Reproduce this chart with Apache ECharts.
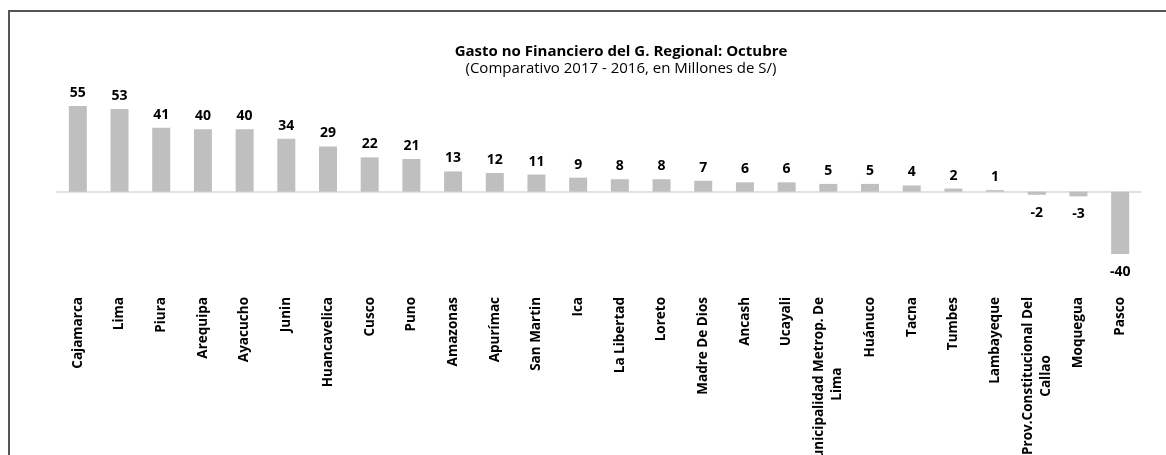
<!DOCTYPE html>
<html>
<head>
<meta charset="utf-8">
<script src="https://cdn.jsdelivr.net/npm/echarts@6/dist/echarts.min.js"></script>
<style>
  html, body { margin: 0; padding: 0; background: #fff; }
  #main { width: 1166px; height: 455px; }
</style>
</head>
<body>
<div id="main"></div>
<script>
// regiones y variación (millones de S/)
const regiones = ['Cajamarca', 'Lima', 'Piura', 'Arequipa', 'Ayacucho', 'Junin', 'Huancavelica', 'Cusco', 'Puno',
  'Amazonas', 'Apurímac', 'San Martin', 'Ica', 'La Libertad', 'Loreto', 'Madre De Dios', 'Ancash', 'Ucayali',
  'Municipalidad Metrop. De\nLima', 'Huánuco', 'Tacna', 'Tumbes', 'Lambayeque', 'Prov.Constitucional Del\nCallao',
  'Moquegua', 'Pasco'];
const variacion = [55, 53, 41, 40, 40, 34, 29, 22, 21, 13, 12, 11, 9, 8, 8, 7, 6, 6, 5, 5, 4, 2, 1, -2, -3, -40];

const titulo = 'Gasto no Financiero del G. Regional: Octubre';
const subtitulo = '(Comparativo 2017 - 2016, en Millones de S/)';

const font = '"Open Sans", sans-serif';

const myChart = echarts.init(document.getElementById('main'));

const option = {
  backgroundColor: '#fff',
  animation: false,
  title: {
    text: titulo,
    subtext: subtitulo,
    left: 616,
    top: 38,
    textAlign: 'center',
    itemGap: 0,
    textStyle: { fontFamily: font, fontSize: 15, fontWeight: 'bold', color: '#000', lineHeight: 17 },
    subtextStyle: { fontFamily: font, fontSize: 15, color: '#000', lineHeight: 17 }
  },
  graphic: [{
    type: 'rect',
    shape: { x: 9, y: 11, width: 1400, height: 700 },
    style: { fill: 'none', stroke: '#555', lineWidth: 2 },
    silent: true
  }],
  grid: { left: 57, right: 25, top: 106, bottom: 201, outerBoundsMode: 'none', containLabel: false },
  xAxis: {
    type: 'category',
    data: regiones,
    axisLine: { lineStyle: { color: '#D9D9D9', width: 1.5 } },
    axisTick: { show: false },
    axisLabel: {
      interval: 0,
      rotate: 90,
      margin: 43,
      formatter: v => v.split('\n').map(s => '{c|' + s + '}').join('\n'),
      rich: {
        c: { align: 'center', fontFamily: font, fontSize: 13.5, fontWeight: 'bold', color: '#000', lineHeight: 18 }
      }
    }
  },
  yAxis: {
    type: 'value',
    min: -40,
    max: 55,
    show: false,
    splitLine: { show: false }
  },
  series: [{
    type: 'bar',
    barWidth: 18,
    itemStyle: { color: '#BFBFBF' },
    label: {
      show: true,
      distance: 6,
      fontFamily: font,
      fontSize: 14,
      fontWeight: 'bold',
      color: '#000'
    },
    // negativos: etiqueta debajo de la barra
    data: variacion.map(v => v < 0
      ? { value: v, label: { position: 'bottom', distance: 11 } }
      : { value: v, label: { position: 'top' } })
  }]
};

myChart.setOption(option);
</script>
</body>
</html>
